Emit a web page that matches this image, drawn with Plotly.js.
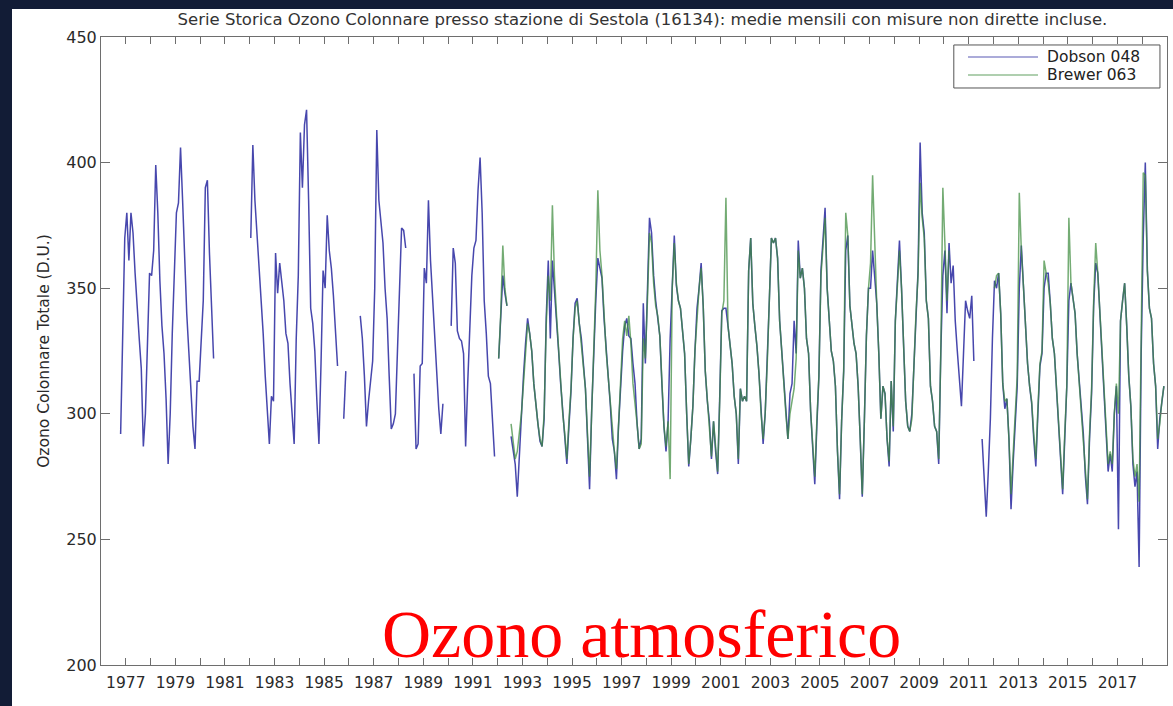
<!DOCTYPE html>
<html>
<head>
<meta charset="utf-8">
<script src="https://cdn.plot.ly/plotly-3.0.1.min.js"></script>
<style>
  html, body { margin: 0; padding: 0; background: #121c36; width: 1173px; height: 706px; overflow: hidden; }
  #chart { position: absolute; left: 12px; top: 9px; width: 1161px; height: 697px; background: #ffffff; }
</style>
</head>
<body>
<div id="chart"></div>
<script>
// Monthly mean total column ozone (D.U.), Sestola station.
// Each row is one calendar year, Jan..Dec; null = no data.
const dobsonStartYear = 1976;
const dobson048 = [
  /* 1976 */ null, null, null, null, null, null, null, null, null, 292, 335, 370,
  /* 1977 */ 380, 361, 380, 372, 356, 345, 330, 318, 287, 300, 330, 356,
  /* 1978 */ 355, 365, 399, 380, 353, 335, 324, 306, 280, 300, 332, 360,
  /* 1979 */ 380, 384, 406, 385, 358, 340, 325, 310, 295, 286, 313, 313,
  /* 1980 */ 330, 345, 390, 393, 364, 340, 322, null, null, null, null, null,
  /* 1981 */ null, null, null, null, null, null, null, null, null, null, null, null,
  /* 1982 */ 370, 407, 385, 372, 361, 345, 332, 315, 300, 288, 307, 305,
  /* 1983 */ 364, 348, 360, 353, 345, 332, 328, 312, 300, 288, 330, 355,
  /* 1984 */ 412, 390, 415, 421, 385, 342, 336, 325, 305, 288, 320, 357,
  /* 1985 */ 350, 379, 365, 358, 347, 335, 319, null, null, 298, 317, null,
  /* 1986 */ null, null, null, null, null, 339, 330, 315, 295, 305, 312, 321,
  /* 1987 */ 350, 413, 385, 375, 368, 350, 338, 315, 294, 296, 300, 325,
  /* 1988 */ 352, 374, 373, 366, null, null, null, 316, 286, 288, 319, 320,
  /* 1989 */ 358, 352, 385, 361, 345, 332, 315, 302, 292, 304, null, null,
  /* 1990 */ null, 335, 366, 360, 333, 330, 329, 324, 287, 312, 335, 355,
  /* 1991 */ 366, 369, 389, 402, 380, 345, 332, 315, 312, 295, 283, null,
  /* 1992 */ 322, 336, 355, 348, 343, null, 291, 285, 280, 267, 285, 299,
  /* 1993 */ 315, 328, 338, 332, 325, 312, 303, 296, 289, 287, 298, 338,
  /* 1994 */ 361, 330, 361, 350, 339, 325, 312, 300, 292, 280, 295, 309,
  /* 1995 */ 330, 344, 346, 336, 330, 320, 310, 290, 270, 301, 325, 345,
  /* 1996 */ 362, 358, 354, 338, 325, 315, 304, 290, 285, 274, 295, 312,
  /* 1997 */ 325, 335, 338, 331, 330, 320, 312, 296, 286, 290, 344, 320,
  /* 1998 */ 350, 378, 372, 355, 345, 339, 331, 312, 295, 285, 297, 330,
  /* 1999 */ 353, 371, 351, 345, 342, 333, 324, 300, 279, 290, 303, 325,
  /* 2000 */ 342, 350, 360, 343, 317, 305, 297, 282, 297, 285, 276, 307,
  /* 2001 */ 341, 342, 342, 335, 327, 320, 307, 300, 280, 310, 305, 307,
  /* 2002 */ 305, 357, 370, 344, 335, 327, 316, 300, 288, 300, 320, 345,
  /* 2003 */ 370, 368, 370, 362, 337, 325, 310, 300, 290, 308, 312, 337,
  /* 2004 */ 324, 369, 354, 358, 350, 330, 324, 301, 288, 272, 295, 315,
  /* 2005 */ 357, 369, 382, 350, 335, 325, 321, 311, 285, 266, 297, 317,
  /* 2006 */ 365, 371, 343, 335, 328, 324, 311, 290, 267, 297, 331, 350,
  /* 2007 */ 350, 365, 356, 344, 324, 298, 311, 308, 290, 279, 313, 293,
  /* 2008 */ 337, 355, 369, 350, 324, 305, 295, 293, 300, 320, 340, 357,
  /* 2009 */ 408, 380, 372, 345, 338, 311, 305, 295, 293, 280, 324, 355,
  /* 2010 */ 365, 340, 368, 352, 359, 337, 325, 313, 303, 324, 345, 341,
  /* 2011 */ 338, 347, 321, null, null, null, 290, 272, 259, 277, 298, 330,
  /* 2012 */ 353, 350, 356, 340, 312, 302, 306, 290, 262, 280, 295, 311,
  /* 2013 */ 350, 367, 351, 335, 320, 311, 304, 290, 279, 300, 319, 324,
  /* 2014 */ 350, 356, 356, 344, 330, 324, 310, 297, 283, 268, 290, 311,
  /* 2015 */ 345, 352, 346, 340, 324, 312, 302, 292, 275, 264, 290, 308,
  /* 2016 */ 343, 360, 356, 340, 324, 310, 297, 277, 284, 277, 300, 311,
  /* 2017 */ 254, 337, 345, 352, 335, 315, 303, 280, 271, 277, 239, 324,
  /* 2018 */ 370, 400, 357, 342, 338, 320, 311, 286, 298, 305, 311, null
];

const brewerStartYear = 1992;
const brewer063 = [
  /* 1992 */ 322, 340, 367, 350, 343, null, 296, 290, 282, 285, 292, 300,
  /* 1993 */ 312, 325, 336, 332, 325, 312, 303, 296, 290, 287, 300, 335,
  /* 1994 */ 355, 345, 383, 355, 339, 325, 312, 300, 292, 282, 297, 310,
  /* 1995 */ 330, 342, 345, 336, 330, 320, 310, 292, 275, 300, 325, 350,
  /* 1996 */ 389, 365, 355, 338, 325, 315, 304, 292, 285, 278, 295, 312,
  /* 1997 */ 330, 337, 331, 339, 328, 312, 305, 296, 286, 288, 330, 322,
  /* 1998 */ 345, 372, 368, 352, 343, 339, 331, 312, 295, 287, 297, 274,
  /* 1999 */ 350, 368, 352, 345, 342, 333, 324, 300, 280, 290, 303, 325,
  /* 2000 */ 340, 350, 358, 343, 317, 305, 297, 283, 297, 285, 277, 305,
  /* 2001 */ 340, 345, 386, 335, 327, 320, 307, 300, 282, 310, 305, 307,
  /* 2002 */ 305, 357, 370, 344, 335, 327, 316, 300, 290, 300, 320, 345,
  /* 2003 */ 370, 368, 370, 362, 337, 325, 310, 300, 290, 300, 305, 310,
  /* 2004 */ 322, 365, 354, 358, 350, 330, 324, 301, 288, 275, 297, 315,
  /* 2005 */ 355, 369, 378, 350, 335, 325, 321, 311, 285, 268, 297, 317,
  /* 2006 */ 380, 371, 343, 335, 328, 324, 311, 290, 268, 297, 331, 350,
  /* 2007 */ 360, 395, 365, 344, 324, 298, 311, 308, 290, 281, 313, 295,
  /* 2008 */ 337, 352, 365, 350, 324, 305, 295, 293, 298, 320, 340, 355,
  /* 2009 */ 392, 378, 370, 345, 338, 311, 305, 295, 293, 282, 324, 390,
  /* 2010 */ 365, 345, 365, null, null, null, null, null, null, null, null, null,
  /* 2011 */ null, null, null, null, null, null, null, null, null, null, null, null,
  /* 2012 */ 350, 355, 356, 340, 312, 305, 306, 290, 268, 285, 300, 315,
  /* 2013 */ 388, 365, 351, 335, 320, 311, 305, 292, 282, 302, 320, 325,
  /* 2014 */ 361, 356, 352, 344, 330, 324, 310, 297, 283, 270, 292, 311,
  /* 2015 */ 378, 352, 346, 340, 324, 312, 302, 292, 278, 266, 292, 310,
  /* 2016 */ 345, 368, 356, 340, 324, 310, 297, 280, 285, 280, 300, 312,
  /* 2017 */ 300, 337, 345, 352, 335, 315, 303, 282, 275, 280, 265, 330,
  /* 2018 */ 396, 395, 357, 342, 338, 320, 311, 290, 296, 305, 311, null
];

// Year ticks: one tick per year, label on odd years only.
const tickYears = [];
for (let y = 1976; y <= 2018; y++) tickYears.push(y);
const labelledYears = [1977, 1979, 1981, 1983, 1985, 1987, 1989, 1991, 1993, 1995, 1997,
                       1999, 2001, 2003, 2005, 2007, 2009, 2011, 2013, 2015, 2017];
const tickText = tickYears.map(y => labelledYears.includes(y) ? String(y) : '');

const seriesNames = ['Dobson 048', 'Brewer 063'];
const seriesColors = ['rgb(52,52,165)', 'rgb(62,140,62)'];

// Decimal-year position at the middle of each month.
function monthAxis(startYear, values) {
  return values.map((_, i) => startYear + Math.floor(i / 12) + ((i % 12) + 0.5) / 12);
}

const traces = [
  {
    name: seriesNames[0],
    x: monthAxis(dobsonStartYear, dobson048),
    y: dobson048,
    mode: 'lines',
    line: { color: seriesColors[0], width: 1.5 },
    opacity: 0.9,
    connectgaps: false,
    showlegend: false
  },
  {
    // semi-transparent so the Dobson record shows through where both overlap
    name: seriesNames[1],
    x: monthAxis(brewerStartYear, brewer063),
    y: brewer063,
    mode: 'lines',
    line: { color: seriesColors[1], width: 1.5 },
    opacity: 0.72,
    connectgaps: false,
    showlegend: false
  }
];

const uiFont = '"DejaVu Sans", "Liberation Sans", Arial, sans-serif';
const axisColor = '#6e6e6e';

// Boxed key in the upper-right corner of the plot area (paper coordinates).
const key = { x0: 0.800, x1: 0.9934, y0: 0.9188, y1: 0.9873,
              lineX0: 0.8133, lineX1: 0.8790, textX: 0.8856, rows: [0.9682, 0.9395] };
const keyShapes = [
  { type: 'rect', xref: 'paper', yref: 'paper', x0: key.x0, x1: key.x1, y0: key.y0, y1: key.y1,
    line: { color: '#555555', width: 1 }, fillcolor: '#ffffff', layer: 'above' }
].concat(seriesNames.map((_, i) => ({
  type: 'line', xref: 'paper', yref: 'paper',
  x0: key.lineX0, x1: key.lineX1, y0: key.rows[i], y1: key.rows[i],
  line: { color: seriesColors[i], width: 1.5 }, opacity: 0.55, layer: 'above'
})));
const keyLabels = seriesNames.map((name, i) => ({
  text: name, xref: 'paper', yref: 'paper', x: key.textX, y: key.rows[i],
  xanchor: 'left', yanchor: 'middle', showarrow: false,
  font: { family: uiFont, size: 15.5, color: '#222222' }
}));

const layout = {
  width: 1161,
  height: 697,
  margin: { l: 89, r: 6, t: 28, b: 41 },
  paper_bgcolor: '#ffffff',
  plot_bgcolor: '#ffffff',
  font: { family: uiFont, color: '#222222' },
  showlegend: false,
  title: {
    text: 'Serie Storica Ozono Colonnare presso stazione di Sestola (16134): medie mensili con misure non dirette incluse.',
    font: { size: 16.5, color: '#333333', family: uiFont },
    xref: 'container', x: 0.543, xanchor: 'center',
    yref: 'container', y: 0.985, yanchor: 'middle'
  },
  xaxis: {
    range: [1976, 2019],
    tickmode: 'array',
    tickvals: tickYears,
    ticktext: tickText,
    ticks: 'inside',
    ticklen: 7,
    tickwidth: 1,
    tickcolor: axisColor,
    showline: true,
    linecolor: axisColor,
    linewidth: 1,
    mirror: 'ticks',
    showgrid: false,
    zeroline: false,
    ticklabelstandoff: 3,
    tickfont: { size: 15.5, color: '#2a2a2a', family: uiFont }
  },
  yaxis: {
    range: [200, 450],
    tickmode: 'linear',
    tick0: 200,
    dtick: 50,
    ticks: 'inside',
    ticklen: 9,
    tickwidth: 1,
    tickcolor: axisColor,
    showline: true,
    linecolor: axisColor,
    linewidth: 1,
    mirror: 'ticks',
    showgrid: false,
    zeroline: false,
    tickfont: { size: 16, color: '#2a2a2a', family: uiFont },
    title: {
      text: 'Ozono Colonnare Totale (D.U.)',
      font: { size: 15.5, color: '#2a2a2a', family: uiFont },
      standoff: 12
    }
  },
  shapes: keyShapes,
  annotations: keyLabels.concat([
    {
      text: 'Ozono atmosferico',
      xref: 'paper', yref: 'paper',
      x: 0.5075, y: 0.049,
      xanchor: 'center', yanchor: 'middle',
      showarrow: false,
      font: { family: '"Liberation Serif", "Times New Roman", serif', size: 68, color: '#ff0000' }
    }
  ])
};

Plotly.newPlot('chart', traces, layout, { displayModeBar: false, staticPlot: true });
</script>
</body>
</html>
